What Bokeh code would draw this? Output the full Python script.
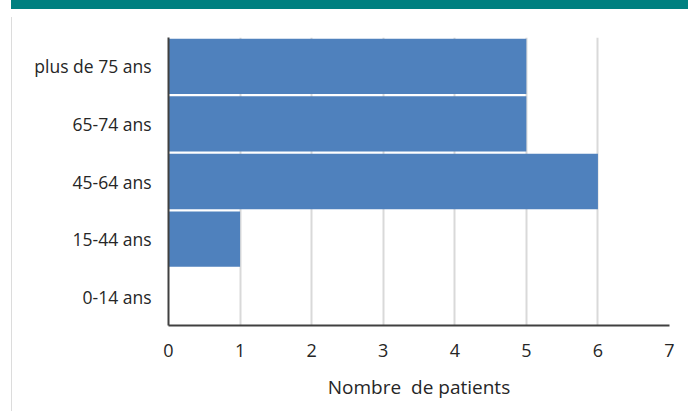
from bokeh.models import ColumnDataSource, Range1d, FactorRange, FixedTicker, Div, Spacer
from bokeh.layouts import column, row
from bokeh.plotting import figure
from bokeh.embed import file_html
from bokeh.resources import INLINE

# tranches d'age, du bas vers le haut
ages = ['0-14 ans', '15-44 ans', '45-64 ans', '65-74 ans', 'plus de 75 ans']
patients = [0, 1, 6, 5, 5]
x_ticks = [0, 1, 2, 3, 4, 5, 6, 7]

src = ColumnDataSource(data=dict(age=ages, n=patients))

p = figure(width=676, height=394, output_backend="svg", toolbar_location=None,
           y_range=FactorRange(factors=ages, range_padding=0),
           x_range=Range1d(0, 7),
           min_border_left=151, min_border_right=24,
           min_border_top=25, min_border_bottom=81)
p.outline_line_color = None
p.background_fill_color = "white"
p.border_fill_color = "white"

p.hbar(y='age', right='n', left=0, height=0.96, source=src,
       fill_color="#4F81BD", line_color=None)

p.xaxis.ticker = FixedTicker(ticks=x_ticks)
p.xaxis.axis_label = "Nombre\u00a0 de patients"
p.xaxis.axis_label_text_font = "Open Sans"
p.xaxis.axis_label_text_font_style = "normal"
p.xaxis.axis_label_text_font_size = "19px"
p.xaxis.axis_label_text_color = "#262626"
p.xaxis.axis_label_standoff = 14

for ax in (p.xaxis, p.yaxis):
    ax.major_tick_line_color = None
    ax.minor_tick_line_color = None
    ax.axis_line_color = "#404040"
    ax.axis_line_width = 2
    ax.major_label_text_font = "Open Sans"
    ax.major_label_text_color = "#262626"
p.xaxis.major_label_text_font_size = "18px"
p.yaxis.major_label_text_font_size = "17.5px"
p.xaxis.major_label_standoff = 12
p.yaxis.major_label_standoff = 11

p.xgrid.ticker = FixedTicker(ticks=x_ticks)
p.xgrid.grid_line_color = "#d9d9d9"
p.xgrid.grid_line_width = 2
p.ygrid.grid_line_color = None

# bandeau vert en haut (remonte dans la marge de la page) et bord gauche du panneau
band = Div(text='<div style="position:relative;top:-8px;height:10px;width:677px;'
                'background:#008080"></div>',
           width=677, height=2, styles={"background-color": "#008080", "overflow": "visible"})
edge = Div(text="", width=1, height=394, styles={"background-color": "#dcdcdc"})
top = row(Spacer(width=6, height=2), band)
body = row(Spacer(width=6, height=394), edge, p)
page = column(top, body)

open("out.html", "w").write(file_html(page, INLINE))
